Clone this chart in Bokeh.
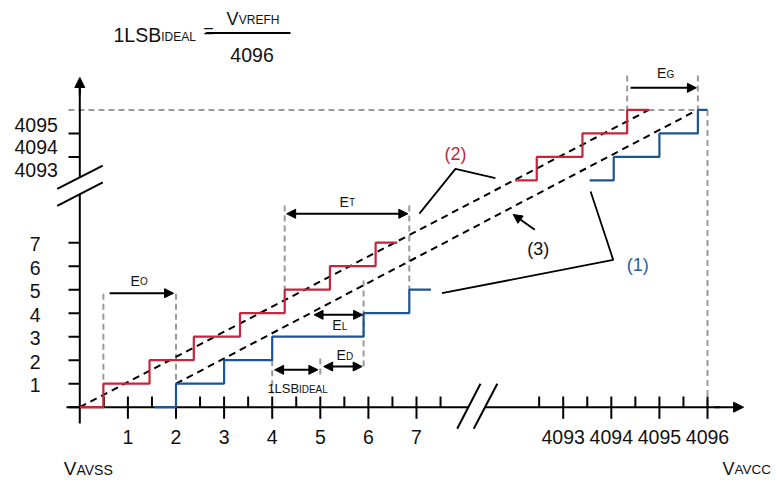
from bokeh.plotting import figure
from bokeh.models import Range1d, Arrow, NormalHead
from bokeh.core.properties import value
from bokeh.embed import file_html
from bokeh.resources import INLINE

# ---------------- data (ADC input / output codes) ----------------
red_low_x = [0.0, 0.49, 1.45, 2.37, 3.33, 4.26, 5.20, 6.15, 6.60]
red_low_y = [0, 1, 2, 3, 4, 5, 6, 7, 7]
red_high_x = [4092.0, 4092.45, 4093.4, 4094.33, 4094.78]
red_high_y = [4093, 4094, 4095, 4096, 4096]
blue_low_x = [1.55, 2.0, 3.0, 4.0, 5.9, 6.85, 7.3]
blue_low_y = [0, 1, 2, 3, 4, 5, 5]
blue_high_x = [4093.55, 4094.05, 4095.0, 4095.8, 4096.0]
blue_high_y = [4093, 4094, 4095, 4096, 4096]
line2_x = [0.0, 4094.78]
line2_y = [0, 4096]
line3_x = [2.0, 4095.7]
line3_y = [1, 4095.9]

x_major = [1, 2, 3, 4, 5, 6, 7, 4093, 4094, 4095, 4096]
x_minor = [0.5, 1.5, 2.5, 3.5, 4.5, 5.5, 6.5, 7.5, 4092.5, 4093.5, 4094.5, 4095.5]
x_labels = ["1", "2", "3", "4", "5", "6", "7", "4093", "4094", "4095", "4096"]
y_ticks = [0, 1, 2, 3, 4, 5, 6, 7, 4094, 4095]
y_low_vals = [1, 2, 3, 4, 5, 6, 7]
y_low_labels = ["1", "2", "3", "4", "5", "6", "7"]
y_high_vals = [4093.45, 4094.42, 4095.35]
y_high_labels = ["4093", "4094", "4095"]
full_scale = 4096

# broken-axis mapping (codes -> axis units)
def ax(c):
    return c - 4082.95 if c > 1000 else c

def ay(c):
    return c - 4083.35 if c > 1000 else c

RED = "#c8243c"
BLUE = "#1c5592"
GRAY = "#9a9a9a"
FONT = value("Liberation Sans")
TICK_SIZE = "19.5px"

p = figure(width=777, height=482, x_range=Range1d(-1.6486, 14.5052),
           y_range=Range1d(-3.2043, 17.3064), output_backend="svg",
           toolbar_location=None, min_border=0)
p.axis.visible = False
p.grid.visible = False
p.outline_line_color = None

# ---------------- gray dashed guides ----------------
gx0 = [-0.235, ax(full_scale), 11.38, 12.85, 0.49, 2.0, 4.26, 6.85, 5.9, 4.0, 5.0]
gy0 = [ay(full_scale), ay(full_scale), 14.11, 14.11, 4.83, 4.83, 8.58, 8.58, 5.39, 2.0, 2.07]
gx1 = [ax(full_scale), ax(full_scale), 11.38, 12.85, 0.49, 2.0, 4.26, 6.85, 5.9, 4.0, 5.0]
gy1 = [ay(full_scale), 0, ay(full_scale), ay(full_scale), 1.0, 1.0, 5.0, 5.0, 1.56, 0.58, 1.26]
p.segment(gx0, gy0, gx1, gy1, line_color=GRAY, line_width=2, line_dash="6 4")

# ---------------- axes ----------------
p.segment([0, 0, -0.277, 8.42], [-0.69, 9.78, 0, 0], [0, 0, 8.08, 13.3], [9.06, 13.6, 0, 0],
          line_color="black", line_width=2)
p.add_layout(Arrow(x_start=0, y_start=13.3, x_end=0, y_end=14.03, line_width=2,
                   end=NormalHead(size=10, fill_color="black", line_color="black")))
p.add_layout(Arrow(x_start=13.2, y_start=0, x_end=13.8, y_end=0, line_width=2,
                   end=NormalHead(size=10, fill_color="black", line_color="black")))
# break marks
p.segment([-0.47, -0.47, 7.846, 8.19], [9.29, 8.57, -0.92, -0.92],
          [0.478, 0.478, 8.33, 8.68], [10.28, 9.57, 0.996, 0.996],
          line_color="black", line_width=2)
# ticks
xm = [ax(v) for v in x_major]
p.segment(xm, [0.455] * len(xm), xm, [-0.494] * len(xm), line_color="black", line_width=2)
xn = [ax(v) for v in x_minor]
p.segment(xn, [0.455] * len(xn), xn, [0] * len(xn), line_color="black", line_width=2)
yt = [ay(v) for v in y_ticks]
p.segment([-0.235] * len(yt), yt, [0] * len(yt), yt, line_color="black", line_width=2)

# tick labels
p.text([ax(v) for v in x_major], [-1.285] * len(x_major), text=x_labels, text_font=FONT,
       text_font_size=TICK_SIZE, text_align="center", text_baseline="middle",
       text_color="#111111")
p.text([-0.817] * len(y_low_vals), [ay(v) - 0.06 for v in y_low_vals], text=y_low_labels,
       text_font=FONT, text_font_size=TICK_SIZE, text_align="right", text_baseline="middle",
       text_color="#111111")
p.text([-0.457] * len(y_high_vals), [ay(v) for v in y_high_vals], text=y_high_labels,
       text_font=FONT, text_font_size=TICK_SIZE, text_align="right", text_baseline="middle",
       text_color="#111111")

# ---------------- ideal / actual transfer lines ----------------
p.line([ax(v) for v in line2_x], [ay(v) for v in line2_y], line_color="black",
       line_width=2, line_dash="7 5")
p.line([ax(v) for v in line3_x], [ay(v) for v in line3_y], line_color="black",
       line_width=2, line_dash="7 5")

# ---------------- staircases ----------------
for xs, ys, col in [(red_low_x, red_low_y, RED), (red_high_x, red_high_y, RED),
                    (blue_low_x, blue_low_y, BLUE), (blue_high_x, blue_high_y, BLUE)]:
    p.step([ax(v) for v in xs], [ay(v) for v in ys], mode="after", line_color=col,
           line_width=2.2)

# ---------------- dimension arrows ----------------
def arrow(x0, y0, x1, y1, both=False):
    head = lambda: NormalHead(size=9, fill_color="black", line_color="black")
    p.add_layout(Arrow(x_start=x0, y_start=y0, x_end=x1, y_end=y1, line_width=2,
                       end=head(), start=head() if both else None))

arrow(11.45, 13.59, 12.82, 13.59)            # E_G
arrow(0.62, 4.85, 1.95, 4.85)                # E_O
arrow(4.30, 8.23, 6.82, 8.23, both=True)     # E_T
arrow(4.87, 3.93, 5.88, 3.93, both=True)     # E_L
arrow(5.07, 1.73, 5.87, 1.73, both=True)     # E_D
arrow(4.05, 1.59, 4.95, 1.59, both=True)     # 1 LSB ideal
arrow(9.46, 7.55, 9.01, 8.20)                # (3)

# leader lines
p.line([7.06, 7.81, 8.64], [8.24, 10.14, 9.75], line_color="black", line_width=1.8)
p.line([10.62, 11.09, 7.53], [9.18, 6.27, 4.85], line_color="black", line_width=1.8)

# ---------------- labels ----------------
LIFT = 0.22

def label(x, y, main, sub, size, sub_size, dx, color="#111111", lift=LIFT):
    p.text([x], [y + lift], text=[main], text_font=FONT, text_font_size=f"{size}px",
           text_align="left", text_baseline="alphabetic", text_color=color)
    if sub:
        p.text([x], [y + lift], text=[sub], text_font=FONT, text_font_size=f"{sub_size}px",
               text_align="left", text_baseline="alphabetic", text_color=color,
               x_offset=dx, y_offset=0.25 * (size - sub_size))

label(1.056, 5.17, "E", "O", 14, 10, 9.5)
label(5.40, 8.53, "E", "T", 14, 10, 9.5)
label(5.247, 3.26, "E", "L", 14, 10, 9.5)
label(5.337, 1.99, "E", "D", 14, 10, 9.5)
label(12.0, 13.99, "E", "G", 14, 10, 9.5)
label(3.90, 0.58, "1LSB", "IDEAL", 13, 10, 31.5)
label(-0.333, -2.62, "V", "AVSS", 19, 14, 12.7, lift=0)
label(13.36, -2.62, "V", "AVCC", 18, 13.5, 12.0, lift=0)
# formula
label(0.70, 15.63, "1LSB", "IDEAL", 19.5, 12, 47.7)
label(2.566, 15.77, "=", None, 18, None, 0)
p.line([2.62, 4.38], [15.92, 15.92], line_color="black", line_width=2)
label(3.05, 16.31, "V", "VREFH", 18, 12, 12.3)
label(3.13, 14.75, "4096", None, 19.5, None, 0)

p.text([7.81], [10.77], text=["(2)"], text_font=FONT, text_font_size="18px",
       text_align="center", text_baseline="middle", text_color="#c0283a")
p.text([11.6], [6.07], text=["(1)"], text_font=FONT, text_font_size="18px",
       text_align="center", text_baseline="middle", text_color="#2560a0")
p.text([9.53], [6.74], text=["(3)"], text_font=FONT, text_font_size="18px",
       text_align="center", text_baseline="middle", text_color="#111111")

open("out.html", "w").write(file_html(p, INLINE))
